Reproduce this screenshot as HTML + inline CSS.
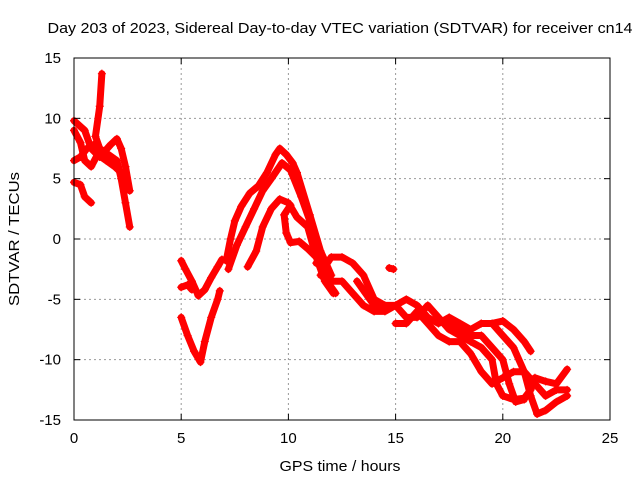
<!DOCTYPE html>
<html><head><meta charset="utf-8"><style>
body{margin:0;background:#fff}
svg{display:block;font-family:"Liberation Sans",sans-serif}
</style></head><body>
<svg id="chart" width="640" height="480">
<text x="340" y="33" font-size="15" text-anchor="middle" textLength="585" lengthAdjust="spacingAndGlyphs">Day 203 of 2023, Sidereal Day-to-day VTEC variation (SDTVAR) for receiver cn14</text>
<text x="340" y="471" font-size="15" text-anchor="middle" textLength="121" lengthAdjust="spacingAndGlyphs">GPS time / hours</text>
<text transform="translate(19,239) rotate(-90)" font-size="15" text-anchor="middle" textLength="134" lengthAdjust="spacingAndGlyphs">SDTVAR / TECUs</text>
<g id="grid"></g><g id="marks"></g>
<rect x="74" y="58" width="536" height="362" fill="none" stroke="#000" stroke-width="1"/>
<g id="ticks"></g>
</svg>
<script>
const xTicks=[0,5,10,15,20,25];
const yTicks=[15,10,5,0,-5,-10,-15];
const trackA1=[[1.3,13.7],[1.2,11],[1.0,8.5],[1.2,7.5],[1.6,7],[2.0,6.5],[2.2,5],[2.4,3],[2.6,1]];
const trackA2=[[0,9.8],[0.5,9],[0.8,7.5],[1.2,6.8],[1.7,7.8],[2.0,8.3],[2.2,7.5],[2.4,6],[2.6,4]];
const trackA3=[[0,6.5],[0.3,6.8],[0.6,7.5],[0.9,7.8],[1.2,7.5]];
const trackA4=[[0,4.7],[0.3,4.5],[0.5,3.5],[0.8,3]];
const trackA5=[[0,9],[0.3,8],[0.5,6.5],[0.8,6],[1.1,7],[1.5,6.5],[1.9,6],[2.2,5.5],[2.5,4.5]];
const trackB1=[[5.0,-1.8],[5.2,-2.5],[5.5,-3.5],[5.8,-4.7],[6.1,-4.2],[6.4,-3.2],[6.7,-2.3],[6.9,-1.7]];
const trackB2=[[5.0,-6.5],[5.3,-8],[5.6,-9.3],[5.9,-10.2],[6.1,-8.5],[6.4,-6.5],[6.7,-5],[6.8,-4.3]];
const trackB3=[[5.0,-4],[5.3,-3.8],[5.5,-4.2]];
const trackC1=[[7.1,-1.8],[7.3,0],[7.5,1.5],[7.8,2.7],[8.2,3.8],[8.6,4.4],[9.0,5.5],[9.4,7],[9.6,7.5],[9.9,7.0],[10.2,6.3],[10.4,5.5],[11,2],[11.5,-1],[12,-3]];
const trackC2=[[7.2,-2.5],[7.6,-0.5],[8.0,1],[8.4,2.5],[8.8,4],[9.2,5],[9.7,6.3],[10.1,5.7],[10.6,3.5],[11.0,1.5],[11.4,-1],[11.8,-3.5],[12.2,-4.5]];
const trackC3=[[8.1,-2.3],[8.5,-1],[8.8,1],[9.2,2.5],[9.6,3.3],[10.0,3.0],[10.4,1.8],[10.9,1],[11.3,-1.5],[11.7,-3.5],[12.1,-4.5]];
const trackC4=[[10.1,2.8],[9.8,2.0],[9.9,0.5],[10.1,-0.3],[10.5,-0.2],[10.9,-0.8],[11.3,-1.5]];
const trackD1=[[11.3,-2],[11.7,-2.3],[12.0,-1.5],[12.5,-1.5],[13.0,-2],[13.5,-3],[14,-5],[14.5,-5.5],[15,-5.5],[15.5,-5],[16,-5.5],[16.5,-6.5],[17,-7],[17.5,-6.5],[18,-7],[18.5,-7.5],[19,-7],[19.5,-7],[20,-6.8],[20.5,-7.5],[21,-8.5],[21.3,-9.3]];
const trackD2=[[11.5,-3],[12,-3.5],[12.5,-3.5],[13,-4.5],[13.5,-5.5],[14,-6],[14.5,-6],[15,-5.5],[15.5,-6.5],[16,-6.5],[16.5,-5.5],[17,-6.5],[17.5,-7.5],[18,-8],[18.5,-8.5],[19,-9],[19.5,-10],[19.7,-12],[20,-13],[20.5,-13.3],[21,-13.2],[21.3,-12.5],[21.5,-11.5],[22,-11.8],[22.5,-12],[23,-10.8]];
const trackD3=[[15,-7],[15.5,-7],[16,-6],[16.5,-7],[17,-8],[17.5,-8.5],[18,-8.5],[18.5,-9.5],[19,-11],[19.5,-12],[20,-11.5],[20.5,-11],[21,-11],[21.5,-12],[22,-13],[22.5,-12.5],[23,-12.5]];
const trackD4=[[19,-7],[19.5,-7],[20,-8],[20.5,-9],[21,-11],[21.3,-13],[21.6,-14.5],[22,-14.2],[22.5,-13.5],[23,-13]];
const trackD5=[[17.5,-7],[18,-7.5],[18.5,-8],[19,-8],[19.5,-9],[20,-10],[20.3,-12],[20.6,-13.5],[21,-13.3]];
const trackD6=[[14.7,-2.4],[14.9,-2.5]];
const trackD7=[[13.2,-3.5],[13.6,-4.5],[14,-5.5],[14.4,-5.8]];
const tracks=[trackA1,trackA2,trackA3,trackA4,trackA5,trackB1,trackB2,trackB3,trackC1,trackC2,trackC3,trackC4,trackD1,trackD2,trackD3,trackD4,trackD5,trackD6,trackD7];
const NS="http://www.w3.org/2000/svg";
const X=h=>74+h*536/25, Y=v=>58+(15-v)*362/30;
const grid=document.getElementById('grid'),ticks=document.getElementById('ticks'),marks=document.getElementById('marks');
function mk(tag,attrs,parent){const e=document.createElementNS(NS,tag);for(const k in attrs)e.setAttribute(k,attrs[k]);parent.appendChild(e);return e;}
xTicks.forEach(t=>{
  const g=mk('line',{x1:X(t),x2:X(t),y1:58,y2:420,stroke:'#999','stroke-dasharray':'2,3'},grid);
  
  
  mk('line',{x1:X(t),x2:X(t),y1:420,y2:414,stroke:'#000'},ticks);
  mk('line',{x1:X(t),x2:X(t),y1:58,y2:64,stroke:'#000'},ticks);
  const l=mk('text',{x:X(t),y:443,'font-size':15,'text-anchor':'middle'},ticks);
  l.textContent=t;
  
  
});
yTicks.forEach(t=>{
  const g=mk('line',{x1:74,x2:610,y1:Y(t),y2:Y(t),stroke:'#999','stroke-dasharray':'2,3'},grid);
  
  
  mk('line',{x1:74,x2:80,y1:Y(t),y2:Y(t),stroke:'#000'},ticks);
  mk('line',{x1:604,x2:610,y1:Y(t),y2:Y(t),stroke:'#000'},ticks);
  const l=mk('text',{x:61,y:Y(t)+5,'font-size':15,'text-anchor':'end'},ticks);
  l.textContent=t;
  
  
});
tracks.forEach(tr=>{
  const p=mk('polyline',{points:tr.map(d=>X(d[0])+','+Y(d[1])).join(' '),fill:'none',stroke:'#f00','stroke-width':7,'stroke-linejoin':'round','stroke-linecap':'round'},marks);
  
  
  tr.forEach(d=>{
    const x=X(d[0]),y=Y(d[1]);
    const m=mk('path',{d:`M${x-4},${y}H${x+4}M${x},${y-4}V${y+4}`,stroke:'#f00','stroke-width':1.2},marks);
    
    
  });
});
</script>
</body></html>
